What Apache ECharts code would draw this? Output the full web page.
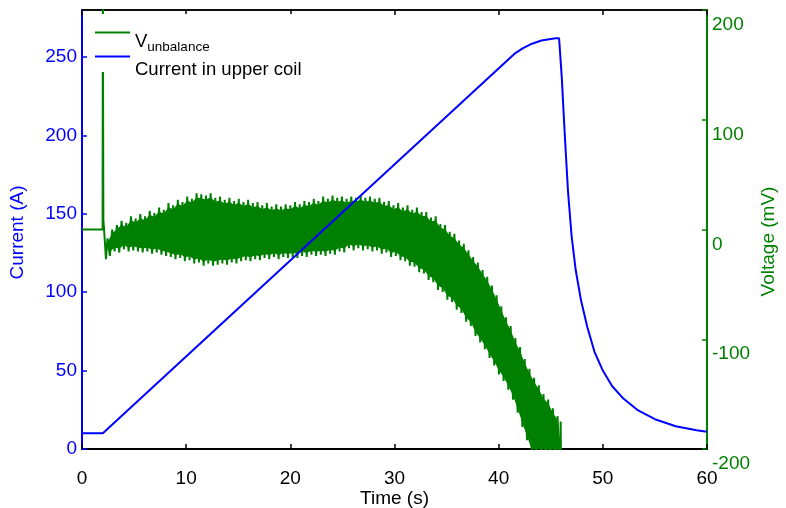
<!DOCTYPE html>
<html><head><meta charset="utf-8">
<script src="https://cdn.jsdelivr.net/npm/echarts@6/dist/echarts.min.js"></script>
<style>html,body{margin:0;padding:0;background:#fff}#c{width:786px;height:508px}</style>
</head><body><div id="c"></div>
<script>
// X axis ticks
const timeTicks = [0, 10, 20, 30, 40, 50, 60];
const currentTicks = [0, 50, 100, 150, 200, 250];
const voltageTicks = [-200, -100, 0, 100, 200];

// Current in upper coil (A) vs time (s)
const currentTime  = [0, 2.0, 2.1, 41.5, 42.3, 43.2, 44.1, 45.0, 45.5, 45.8, 46.05, 46.35, 46.65, 47.0, 47.4, 47.9, 48.5, 49.2, 50.0, 50.9, 52.0, 53.3, 55.0, 57.0, 59.0, 60.0];
const currentValue = [10, 10, 10.5, 252, 255.5, 258.5, 260.5, 261.5, 262, 262, 238, 200, 165, 136, 114, 95, 78, 62, 50, 40, 32, 25, 19, 14.5, 12, 11];

// V_unbalance (mV): start transient
const voltStartTime  = [0, 1.98, 2.0, 2.05, 2.12, 2.3];
const voltStartValue = [0, 0, 230, 9, 0, -27];
// oscillation: one peak and one trough per cycle, sampled every cycle
const voltCycleStart = 2.45;
const voltCyclePeriod = 0.45;
const voltPeak = [-8,0,4,8,6,12,10,14,12,17,15,20,18,24,22,27,25,30,28,33,32,31,33,29,30,27,29,26,28,25,27,24,25,22,24,21,23,21,23,22,25,23,26,25,28,26,30,28,31,29,30,28,30,29,31,29,30,28,29,25,26,22,24,20,22,18,20,16,16,11,12,5,4,-2,-4,-10,-13,-19,-25,-30,-37,-43,-51,-60,-70,-80,-88,-99,-107,-118,-127,-135,-142,-150,-155,-163,-170];
const voltTrough = [-24,-20,-21,-18,-20,-19,-20,-21,-20,-22,-21,-23,-24,-25,-27,-26,-29,-28,-31,-30,-33,-31,-33,-32,-31,-32,-30,-31,-29,-28,-29,-27,-28,-26,-27,-25,-27,-25,-26,-25,-26,-24,-25,-23,-24,-23,-24,-22,-23,-20,-21,-17,-19,-17,-19,-18,-20,-19,-22,-21,-25,-24,-28,-29,-33,-34,-39,-40,-46,-48,-55,-57,-64,-66,-73,-76,-84,-88,-97,-103,-109,-117,-124,-132,-138,-146,-155,-167,-180,-192,-204,-212,-215,-218,-220,-222,-225];
const voltEndTime  = [45.95, 46.0];
const voltEndValue = [-175, -230];

const currentData = currentTime.map((t, i) => [t, currentValue[i]]);
const voltData = voltStartTime.map((t, i) => [t, voltStartValue[i]]);
voltPeak.forEach((p, k) => {
  const t = voltCycleStart + k * voltCyclePeriod;
  voltData.push([t, p]);
  voltData.push([t + voltCyclePeriod / 2, voltTrough[k]]);
});
voltEndTime.forEach((t, i) => voltData.push([t, voltEndValue[i]]));

const BLUE = '#0000ff', GREEN = '#008000';
const FONT = 'Liberation Sans, Arial, sans-serif';
function legendText(pad) {
  return {fontFamily: FONT, fontSize: 18.5, color: '#000', padding: [pad, 0, 0, 0],
    rich: {a: {fontSize: 18.5, fontFamily: FONT, color: '#000'}, b: {fontSize: 13.5, fontFamily: FONT, color: '#000', padding: [10, 0, 0, 0]}}};
}
// solid body of the oscillation band (inside the peaks/troughs)
function renderBand(params, api) {
  const inset = 4;
  const pts = [];
  voltPeak.forEach((p, k) => {
    const c = api.coord([voltCycleStart + k * voltCyclePeriod, p]);
    pts.push([c[0], c[1] + inset]);
  });
  for (let k = voltTrough.length - 1; k >= 0; k--) {
    const c = api.coord([voltCycleStart + k * voltCyclePeriod + voltCyclePeriod / 2, voltTrough[k]]);
    pts.push([c[0], c[1] - inset]);
  }
  return {type: 'polygon', shape: {points: pts}, style: {fill: GREEN}};
}
const chart = echarts.init(document.getElementById('c'), null, {renderer: 'canvas'});
chart.setOption({
  animation: false,
  backgroundColor: '#fff',
  textStyle: {fontFamily: FONT},
  grid: {left: 82, right: 79, top: 10, bottom: 59, outerBoundsMode: 'none', containLabel: false,
    show: true, borderColor: '#000', borderWidth: 1.5, backgroundColor: 'transparent'},
  graphic: [{type: 'rect', shape: {x: 92, y: 14, width: 213, height: 58}, style: {fill: '#fff'}, z: 3, silent: true}],
  legend: [{
    left: 95, top: 31.5, padding: 0, icon: 'rect', itemWidth: 35, itemHeight: 2,
    data: ['Vunbalance'], formatter: () => '{a|V}{b|unbalance}', textStyle: legendText(19)
  }, {
    left: 95, top: 55.5, padding: 0, icon: 'rect', itemWidth: 35, itemHeight: 2,
    data: ['Current in upper coil'], textStyle: legendText(26)
  }],
  xAxis: [{
    type: 'value', min: timeTicks[0], max: timeTicks[timeTicks.length - 1], interval: 10,
    name: 'Time (s)', nameLocation: 'middle', nameGap: 40, nameMoveOverlap: false,
    nameTextStyle: {fontSize: 19, color: '#000', fontFamily: FONT},
    axisLine: {show: true, onZero: false, lineStyle: {color: '#000', width: 2}},
    axisTick: {show: true, inside: true, length: 5, lineStyle: {color: '#000', width: 1.5}},
    axisLabel: {fontSize: 19, color: '#000', margin: 20, fontFamily: FONT},
    splitLine: {show: false}
  }, {
    type: 'value', position: 'top', min: 0, max: 60, interval: 10,
    axisLine: {show: true, onZero: false, lineStyle: {color: '#000', width: 1.5}},
    axisTick: {show: true, inside: true, length: 5, lineStyle: {color: '#000', width: 1.5}},
    axisLabel: {show: false}, splitLine: {show: false}
  }],
  yAxis: [{
    type: 'value', min: 0, max: 280, interval: 50, position: 'left',
    name: 'Current (A)', nameLocation: 'middle', nameGap: 55, nameRotate: 90, nameMoveOverlap: false,
    nameTextStyle: {fontSize: 19, color: BLUE, fontFamily: FONT, padding: [0, 6, 0, 0]},
    axisLine: {show: true, onZero: false, lineStyle: {color: BLUE, width: 2}},
    axisTick: {show: true, inside: true, length: 5, lineStyle: {color: BLUE, width: 1.5}},
    axisLabel: {fontSize: 19, color: BLUE, margin: 5, showMaxLabel: false, fontFamily: FONT,
      formatter: v => currentTicks.includes(v) ? String(v) : ''},
    splitLine: {show: false}
  }, {
    type: 'value', min: -200, max: 200, interval: 100, position: 'right',
    name: 'Voltage (mV)', nameLocation: 'middle', nameGap: 52, nameRotate: 90, nameMoveOverlap: false,
    nameTextStyle: {fontSize: 19, color: GREEN, fontFamily: FONT, padding: [0, 24, 0, 0]},
    axisLine: {show: true, onZero: false, lineStyle: {color: GREEN, width: 2}},
    axisTick: {show: true, inside: true, length: 5, lineStyle: {color: GREEN, width: 1.5}},
    axisLabel: {fontSize: 19, color: GREEN, margin: 5, fontFamily: FONT, verticalAlign: 'top', lineHeight: 30,
      formatter: v => voltageTicks.includes(v) ? String(v) : ''},
    splitLine: {show: false}
  }],
  series: [{
    name: 'Vunbalance', type: 'line', yAxisIndex: 1, xAxisIndex: 0, data: voltData,
    showSymbol: false, symbol: 'none', clip: true,
    lineStyle: {color: GREEN, width: 2}, itemStyle: {color: GREEN}, z: 2
  }, {
    name: 'VunbalanceBand', type: 'custom', yAxisIndex: 1, xAxisIndex: 0, data: [[0, 0]],
    renderItem: renderBand, clip: true, silent: true, z: 2
  }, {
    name: 'Current in upper coil', type: 'line', yAxisIndex: 0, xAxisIndex: 0, data: currentData,
    showSymbol: false, symbol: 'none', clip: true, smooth: false,
    lineStyle: {color: BLUE, width: 2}, itemStyle: {color: BLUE}, z: 2
  }]
});
</script></body></html>
